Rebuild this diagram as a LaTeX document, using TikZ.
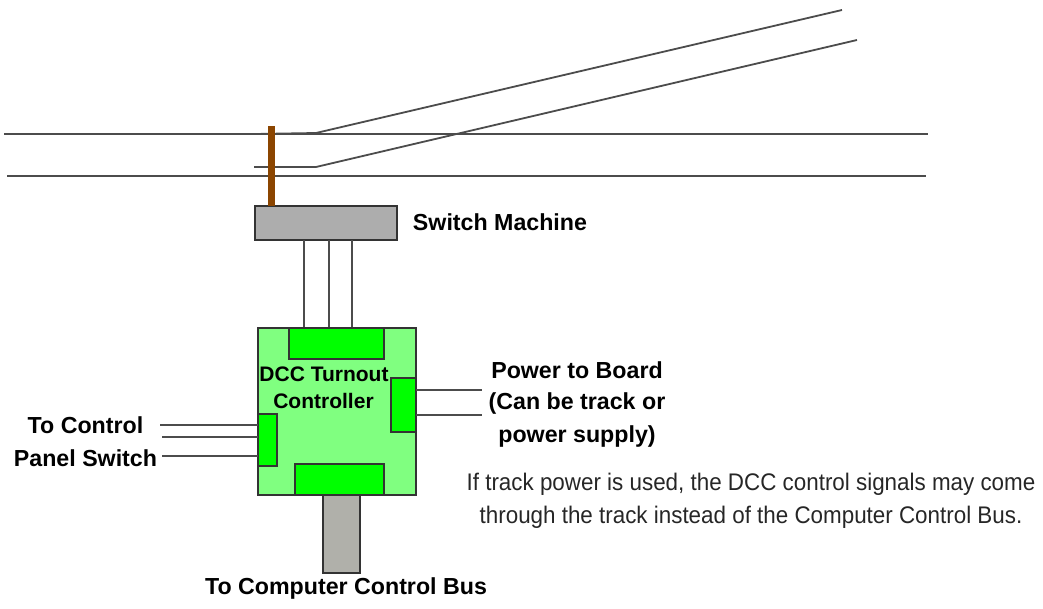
\documentclass[tikz,border=0pt]{standalone}
\usepackage{fontspec}
\setmainfont{Liberation Sans}
\tikzset{
 x=1pt,y=-1pt,
 wire/.style={draw=black!70,line width=1.7pt},
 rail/.style={draw=black!70,line width=1.8pt},
 box/.style={draw=black!80,line width=1.6pt,inner sep=0pt,outer sep=0pt,anchor=north west},
 gray box/.style={box,fill=black!32},
 port/.style={box,fill=green},
 lab/.style={font=\bfseries\fontsize{23.2}{23.2}\selectfont,inner sep=0pt,text=black},
 lab small/.style={font=\bfseries\fontsize{21}{21}\selectfont,inner sep=0pt,text=black},
 note/.style={font=\fontsize{24}{24}\selectfont,inner sep=0pt,text=black!85,xscale=0.933,transform shape},
}
\begin{document}
\begin{tikzpicture}
\useasboundingbox (0,0) rectangle (1043,609);
% track
\coordinate (r1a) at (4,134); \coordinate (r1b) at (928,134);
\coordinate (r2a) at (7,176); \coordinate (r2b) at (926,176);
\draw[rail] (r1a) -- (r1b);
\draw[rail] (r2a) -- (r2b);
\coordinate (p1a) at (255,134); \coordinate (p1b) at (316,133); \coordinate (p1c) at (842,10);
\coordinate (p2a) at (254,167); \coordinate (p2b) at (316,167); \coordinate (p2c) at (857,40);
\draw[rail] (p1a) -- (p1b) -- (p1c);
\draw[rail] (p2a) -- (p2b) -- (p2c);
% switch machine
\node[gray box,minimum width=142,minimum height=34] (sm) at (255,206) {};
\fill[fill={rgb,255:red,139;green,69;blue,0}] (268,126) rectangle (275,206);
\foreach \x/\n in {304/a,329/b,352/c}{
  \coordinate (t\n) at (\x,240); \coordinate (b\n) at (\x,328);
  \draw[wire] (t\n) -- (b\n);
}
% board
\node[box,fill={rgb,255:red,128;green,255;blue,128},minimum width=158,minimum height=167] (bd) at (258,328) {};
\node[port,minimum width=95,minimum height=31] (pt) at (289,328) {};
\node[port,minimum width=25,minimum height=54] (pr) at (391,378) {};
\node[port,minimum width=19,minimum height=52] (pl) at (258,414) {};
\node[port,minimum width=89,minimum height=31] (pb) at (295,464) {};
\node[gray box,fill={rgb,255:red,176;green,176;blue,170},minimum width=37,minimum height=78] (bus) at (323,495) {};
% left wires
\foreach \y/\xs/\n in {425/160/a,437/162/b,456/162/c}{
  \coordinate (l\n) at (\xs,\y); \coordinate (m\n) at (258,\y);
  \draw[wire] (l\n) -- (m\n);
}
% right wires
\foreach \y/\n in {390/a,415/b}{
  \coordinate (q\n) at (416,\y); \coordinate (s\n) at (482,\y);
  \draw[wire] (q\n) -- (s\n);
}
% labels
\node[lab] (l1) at (500,222) {Switch Machine};
\node[lab small] (l2) at (324,374) {DCC Turnout};
\node[lab small] (l3) at (323.5,401) {Controller};
\node[lab] (l4) at (577,370) {Power to Board};
\node[lab] (l5) at (577,403) {(Can be track or};
\node[lab] (l6) at (577,436) {power supply)};
\node[lab] (l7) at (85.5,425) {To Control};
\node[lab] (l8) at (85.5,458) {Panel Switch};
\node[lab] (l9) at (346,588) {To Computer Control Bus};
\node[note] (n1) at (751,484) {If track power is used, the DCC control signals may come};
\node[note] (n2) at (751,517) {through the track instead of the Computer Control Bus.};
\end{tikzpicture}
\end{document}
